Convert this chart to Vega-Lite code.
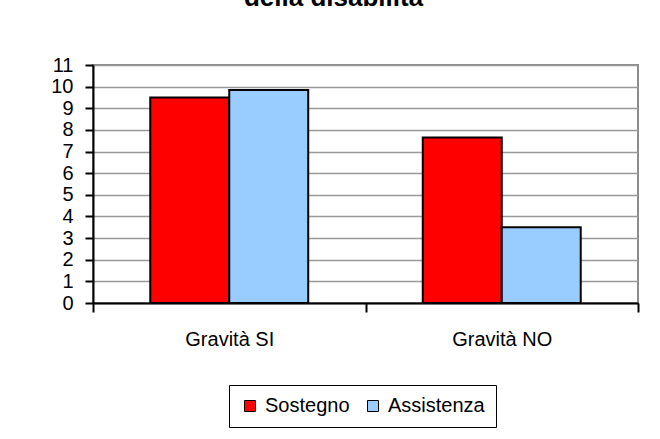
{
  "$schema": "https://vega.github.io/schema/vega-lite/v6.json",
  "width": 545,
  "height": 238,
  "autosize": "none",
  "padding": {"left": 93, "top": 65, "right": 22, "bottom": 136},
  "background": "white",
  "config": {
    "font": "Liberation Sans",
    "view": {"stroke": "#8c8c8c", "strokeWidth": 2},
    "axis": {"labelColor": "black", "labelFont": "Liberation Sans", "labelFontSize": 20}
  },
  "title": {
    "text": "della disabilità",
    "font": "Liberation Sans",
    "fontSize": 26,
    "fontWeight": "bold",
    "color": "black",
    "anchor": "middle",
    "baseline": "alphabetic",
    "offset": 23,
    "dx": -32
  },
  "data": {
    "values": [
      {"categoria": "Gravità SI", "serie": "Sostegno", "valore": 9.5},
      {"categoria": "Gravità SI", "serie": "Assistenza", "valore": 9.85},
      {"categoria": "Gravità NO", "serie": "Sostegno", "valore": 7.65},
      {"categoria": "Gravità NO", "serie": "Assistenza", "valore": 3.5}
    ]
  },
  "mark": {"type": "bar", "stroke": "black", "strokeWidth": 2},
  "encoding": {
    "x": {
      "field": "categoria",
      "type": "nominal",
      "sort": ["Gravità SI", "Gravità NO"],
      "scale": {"paddingInner": 0, "paddingOuter": 0},
      "axis": {
        "title": null,
        "labelAngle": 0,
        "tickBand": "extent",
        "tickSize": 9,
        "tickColor": "black",
        "tickWidth": 2,
        "domainColor": "black",
        "domainWidth": 2,
        "labelPadding": 17,
        "grid": false
      }
    },
    "xOffset": {
      "field": "serie",
      "sort": ["Sostegno", "Assistenza"],
      "scale": {"paddingInner": 0, "paddingOuter": 0.725}
    },
    "y": {
      "field": "valore",
      "type": "quantitative",
      "scale": {"domain": [0, 11], "nice": false},
      "axis": {
        "title": null,
        "values": [0, 1, 2, 3, 4, 5, 6, 7, 8, 9, 10, 11],
        "tickSize": 8,
        "tickColor": "black",
        "tickWidth": 2,
        "domainColor": "black",
        "domainWidth": 2,
        "labelPadding": 12,
        "gridColor": "#999999",
        "gridWidth": 1.5,
        "gridOpacity": 1
      }
    },
    "color": {
      "field": "serie",
      "type": "nominal",
      "scale": {"domain": ["Sostegno", "Assistenza"], "range": ["#ff0000", "#99ccff"]},
      "legend": {
        "title": null,
        "orient": "none",
        "legendX": 136,
        "legendY": 320,
        "direction": "horizontal",
        "strokeColor": "black",
        "padding": 11,
        "symbolType": "square",
        "symbolSize": 121,
        "symbolStrokeColor": "black",
        "symbolStrokeWidth": 1,
        "symbolOpacity": 1,
        "labelFont": "Liberation Sans",
        "labelFontSize": 20,
        "labelColor": "black",
        "labelOffset": 5,
        "columnPadding": 13
      }
    }
  }
}
